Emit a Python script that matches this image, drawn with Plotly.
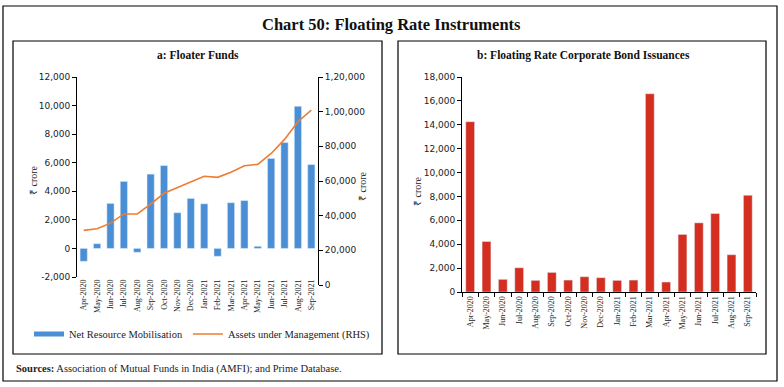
import plotly.graph_objects as go

W, H = 784, 387

months = ["Apr-2020", "May-2020", "Jun-2020", "Jul-2020", "Aug-2020", "Sep-2020",
          "Oct-2020", "Nov-2020", "Dec-2020", "Jan-2021", "Feb-2021", "Mar-2021",
          "Apr-2021", "May-2021", "Jun-2021", "Jul-2021", "Aug-2021", "Sep-2021"]

net_resource_mobilisation = [-900, 330, 3150, 4690, -270, 5200, 5800, 2500, 3500,
                             3125, -550, 3200, 3350, 150, 6300, 7410, 9950, 5870]

assets_under_management = [31500, 32400, 35700, 41000, 41000, 46600, 52900, 56200, 59800,
                           62700, 62100, 65000, 68800, 69600, 75900, 84000, 94200, 100900]

bond_issuances = [14260, 4230, 1060, 2030, 975, 1640, 1000, 1280, 1200,
                  975, 1000, 16600, 835, 4820, 5790, 6570, 3120, 8100]

left_ticks = [-2000, 0, 2000, 4000, 6000, 8000, 10000, 12000]
left_ticktext = ["-2,000", "0", "2,000", "4,000", "6,000", "8,000", "10,000", "12,000"]
rhs_ticks = [0, 20000, 40000, 60000, 80000, 100000, 120000]
rhs_ticktext = ["0", "20,000", "40,000", "60,000", "80,000", "1,00,000", "1,20,000"]
right_ticks = list(range(0, 18001, 2000))
right_ticktext = ["0", "2,000", "4,000", "6,000", "8,000", "10,000", "12,000",
                  "14,000", "16,000", "18,000"]

BLUE = "#4a8fd5"
ORANGE = "#ed7d31"
RED = "#d42e20"
SERIF = "Liberation Serif"
SANS = "DejaVu Sans"


def fx(px):
    return px / W


def fy(py):
    return 1 - py / H


fig = go.Figure()

fig.add_trace(go.Bar(x=months, y=net_resource_mobilisation, marker_color=BLUE,
                     xaxis="x", yaxis="y", showlegend=False,
                     name="Net Resource Mobilisation"))
fig.add_trace(go.Scatter(x=months, y=assets_under_management, mode="lines",
                         line=dict(color=ORANGE, width=1.6),
                         xaxis="x", yaxis="y2", showlegend=False,
                         name="Assets under Management (RHS)"))
# legend entries
fig.add_trace(go.Scatter(x=[None], y=[None], mode="lines", line=dict(color=BLUE, width=5),
                         xaxis="x", yaxis="y", name="Net Resource Mobilisation"))
fig.add_trace(go.Scatter(x=[None], y=[None], mode="lines", line=dict(color=ORANGE, width=1.6),
                         xaxis="x", yaxis="y2", name="Assets under Management (RHS)"))

fig.add_trace(go.Bar(x=months, y=bond_issuances, marker_color=RED,
                     xaxis="x2", yaxis="y3", showlegend=False,
                     name="Floating Rate Corporate Bond Issuances"))

tickfont_y = dict(family=SANS, size=9, color="#222")
tickfont_x = dict(family=SERIF, size=8, color="#222")

n = len(months)
left_top, left_zero, left_bot, rhs_bot = 77, 256, 277, 285

fig.update_layout(
    width=W, height=H,
    margin=dict(l=0, r=0, t=0, b=0, autoexpand=False),
    paper_bgcolor="white", plot_bgcolor="rgba(0,0,0,0)",
    bargap=0.46,
    xaxis=dict(domain=[fx(77), fx(318)], type="category", range=[-0.5, n - 0.5],
               anchor="y", showline=False, ticks="", showgrid=False,
               tickangle=-90, tickfont=tickfont_x, ticklabelstandoff=0),
    yaxis=dict(domain=[fy(left_bot), fy(left_top)], range=[-2000, 12000],
               tickvals=left_ticks, ticktext=left_ticktext, showgrid=False,
               zeroline=False, showline=True, linecolor="black", linewidth=1,
               ticks="outside", ticklen=4, tickcolor="black", tickfont=tickfont_y,
               anchor="x"),
    yaxis2=dict(domain=[fy(rhs_bot), fy(left_top)], range=[0, 120000],
                tickvals=rhs_ticks, ticktext=rhs_ticktext, showgrid=False,
                zeroline=False, showline=True, linecolor="black", linewidth=1,
                ticks="outside", ticklen=4, tickcolor="black", tickfont=tickfont_y,
                anchor="x", side="right"),
    xaxis3=dict(overlaying="x", type="linear", range=[-0.5, n - 0.5],
                anchor="free", position=fy(left_zero), showline=True,
                linecolor="black", linewidth=1, ticks="outside", ticklen=4,
                tickcolor="black", tickvals=[i + 1.5 for i in range(0, n - 2, 2)],
                showticklabels=False, showgrid=False, zeroline=False),
    xaxis2=dict(domain=[fx(462), fx(756)], type="category", range=[-0.5, n - 0.5],
                anchor="y3", showline=True, linecolor="black", linewidth=1,
                ticks="outside", ticklen=4, tickcolor="black", tickson="boundaries",
                showgrid=False, tickangle=-90, tickfont=tickfont_x),
    yaxis3=dict(domain=[fy(292), fy(77)], range=[0, 18000], tickvals=right_ticks,
                ticktext=right_ticktext, showgrid=False, zeroline=False,
                showline=True, linecolor="black", linewidth=1, ticks="outside",
                ticklen=4, tickcolor="black", tickfont=tickfont_y, anchor="x2"),
    legend=dict(orientation="h", x=fx(29), y=fy(334), xanchor="left", yanchor="middle",
                font=dict(family=SERIF, size=10.5, color="#222"),
                itemwidth=30, bgcolor="rgba(0,0,0,0)", tracegroupgap=0),
)

shapes = [
    dict(type="rect", xref="paper", yref="paper", x0=fx(3), x1=fx(777), y0=fy(381), y1=fy(6),
         line=dict(color="black", width=1.2)),
    dict(type="rect", xref="paper", yref="paper", x0=fx(13), x1=fx(382), y0=fy(354), y1=fy(41),
         line=dict(color="black", width=1.2)),
    dict(type="rect", xref="paper", yref="paper", x0=fx(398), x1=fx(766), y0=fy(354), y1=fy(41),
         line=dict(color="black", width=1.2)),
]
fig.update_layout(shapes=shapes)

ann = [
    dict(text="<b>Chart 50: Floating Rate Instruments</b>", x=fx(391), y=fy(24),
         font=dict(family=SERIF, size=16.5, color="#111")),
    dict(text="<b>a: Floater Funds</b>", x=fx(198), y=fy(55),
         font=dict(family=SERIF, size=11.5, color="#111")),
    dict(text="<b>b: Floating Rate Corporate Bond Issuances</b>", x=fx(583), y=fy(55),
         font=dict(family=SERIF, size=11.5, color="#111")),
    dict(text="₹ crore", x=fx(34), y=fy(180), textangle=-90,
         font=dict(family=SERIF, size=10, color="#222")),
    dict(text="₹ crore", x=fx(362), y=fy(186), textangle=-90,
         font=dict(family=SERIF, size=10, color="#222")),
    dict(text="₹ crore", x=fx(417), y=fy(191), textangle=-90,
         font=dict(family=SERIF, size=10, color="#222")),
    dict(text="<b>Sources:</b> Association of Mutual Funds in India (AMFI); and Prime Database.",
         x=fx(14), y=fy(369), xanchor="left",
         font=dict(family=SERIF, size=10.5, color="#222")),
]
for a in ann:
    a.setdefault("xanchor", "center")
    a.update(xref="paper", yref="paper", yanchor="middle", showarrow=False)
fig.update_layout(annotations=ann)

fig.write_html("out.html", config={"displayModeBar": False},
               post_script="document.body.style.margin='0';document.body.style.padding='0';")
